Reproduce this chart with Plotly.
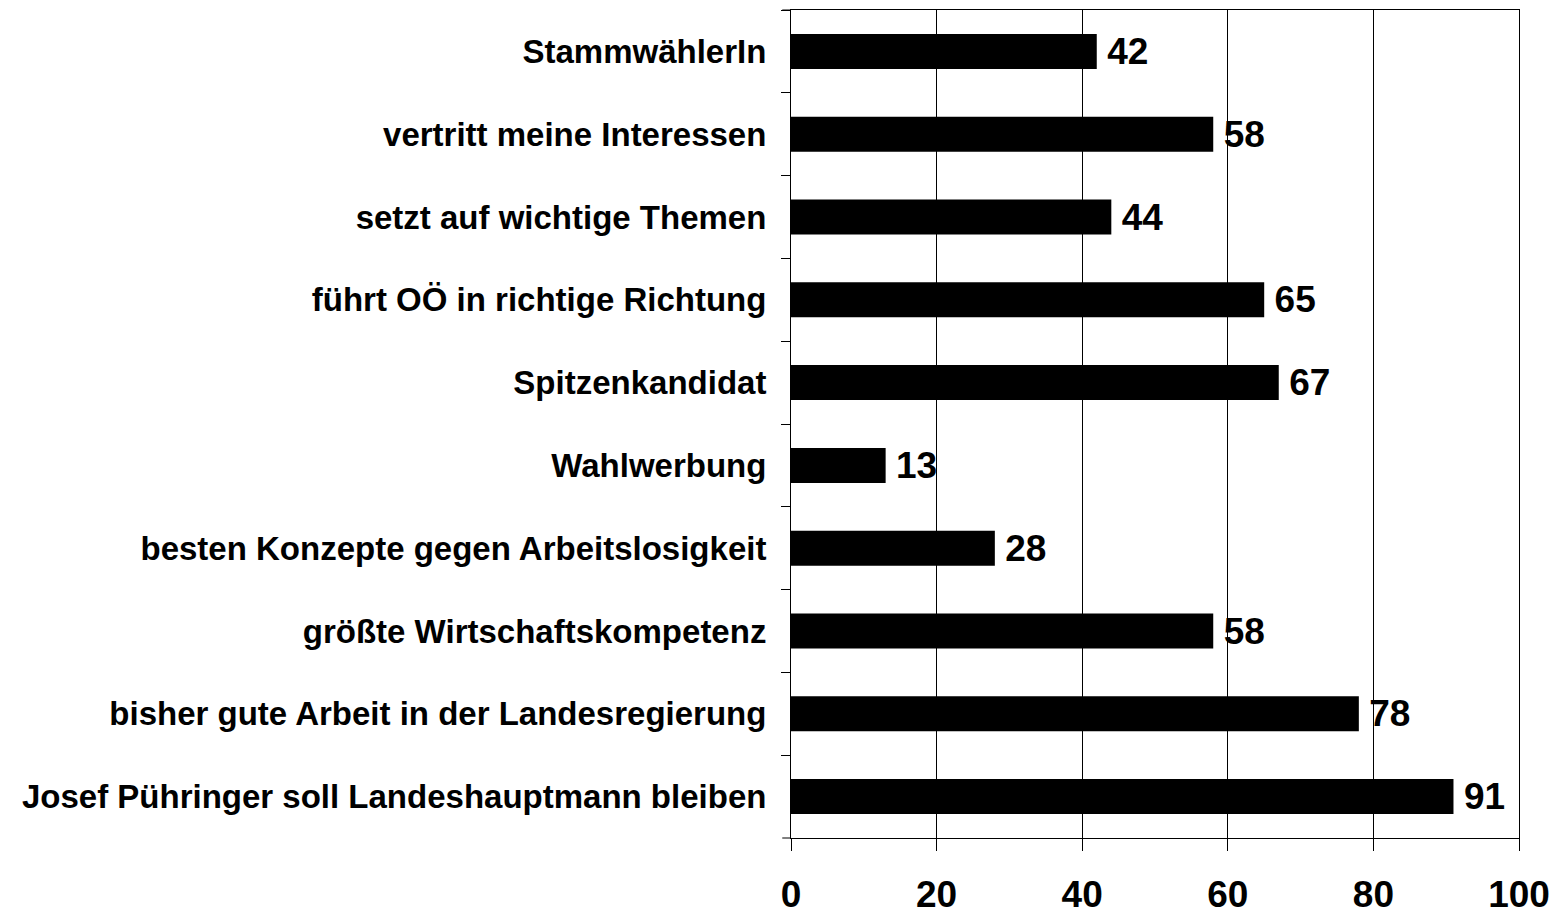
import plotly.graph_objects as go

# Kategorien von oben nach unten
categories = [
    "StammwählerIn",
    "vertritt meine Interessen",
    "setzt auf wichtige Themen",
    "führt OÖ in richtige Richtung",
    "Spitzenkandidat",
    "Wahlwerbung",
    "besten Konzepte gegen Arbeitslosigkeit",
    "größte Wirtschaftskompetenz",
    "bisher gute Arbeit in der Landesregierung",
    "Josef Pühringer soll Landeshauptmann bleiben",
]
values = [42, 58, 44, 65, 67, 13, 28, 58, 78, 91]
x_ticks = [0, 20, 40, 60, 80, 100]

FONT = "Liberation Sans, Arial, sans-serif"

fig = go.Figure()
fig.add_trace(go.Bar(
    y=categories,
    x=values,
    orientation="h",
    marker=dict(color="#000000", line=dict(width=0)),
    text=["\u2009" + str(v) for v in values],
    textposition="outside",
    constraintext="none",
    textfont=dict(family=FONT, size=37, color="#000000", weight="bold"),
    cliponaxis=False,
    hoverinfo="skip",
))

# die Seite hat 8px Rand (body margin), daher Breite/Höhe entsprechend kleiner
fig.update_layout(
    width=1549,
    height=908,
    margin=dict(l=783, r=38, t=2, b=78, autoexpand=False),
    paper_bgcolor="#ffffff",
    plot_bgcolor="#ffffff",
    bargap=0.577,
    showlegend=False,
    font=dict(family=FONT, color="#000000"),
    xaxis=dict(
        range=[0, 100],
        tickvals=x_ticks,
        ticks="outside",
        ticklen=12,
        tickwidth=1,
        tickcolor="#000000",
        showline=True,
        linecolor="#000000",
        linewidth=1,
        mirror=True,
        showgrid=True,
        gridcolor="#000000",
        gridwidth=1,
        zeroline=False,
        automargin=False,
        tickfont=dict(family=FONT, size=37, color="#000000", weight="bold"),
        ticklabelstandoff=12,
        fixedrange=True,
    ),
    yaxis=dict(
        autorange="reversed",
        type="category",
        tickson="boundaries",
        ticks="outside",
        ticklen=9,
        tickwidth=1,
        tickcolor="#000000",
        showline=True,
        linecolor="#000000",
        linewidth=1,
        mirror=True,
        showgrid=False,
        zeroline=False,
        automargin=False,
        tickfont=dict(family=FONT, size=33, color="#000000", weight="bold"),
        ticklabelstandoff=17,
        fixedrange=True,
    ),
    # kurze Verlängerung von Ober- und Unterkante nach links (wie im Original)
    shapes=[
        dict(type="line", xref="x domain", yref="y domain",
             x0=-0.012, x1=0, y0=1, y1=1, line=dict(color="#000000", width=1)),
        dict(type="line", xref="x domain", yref="y domain",
             x0=-0.012, x1=0, y0=0, y1=0, line=dict(color="#000000", width=1)),
    ],
)

fig.write_html("out.html")
